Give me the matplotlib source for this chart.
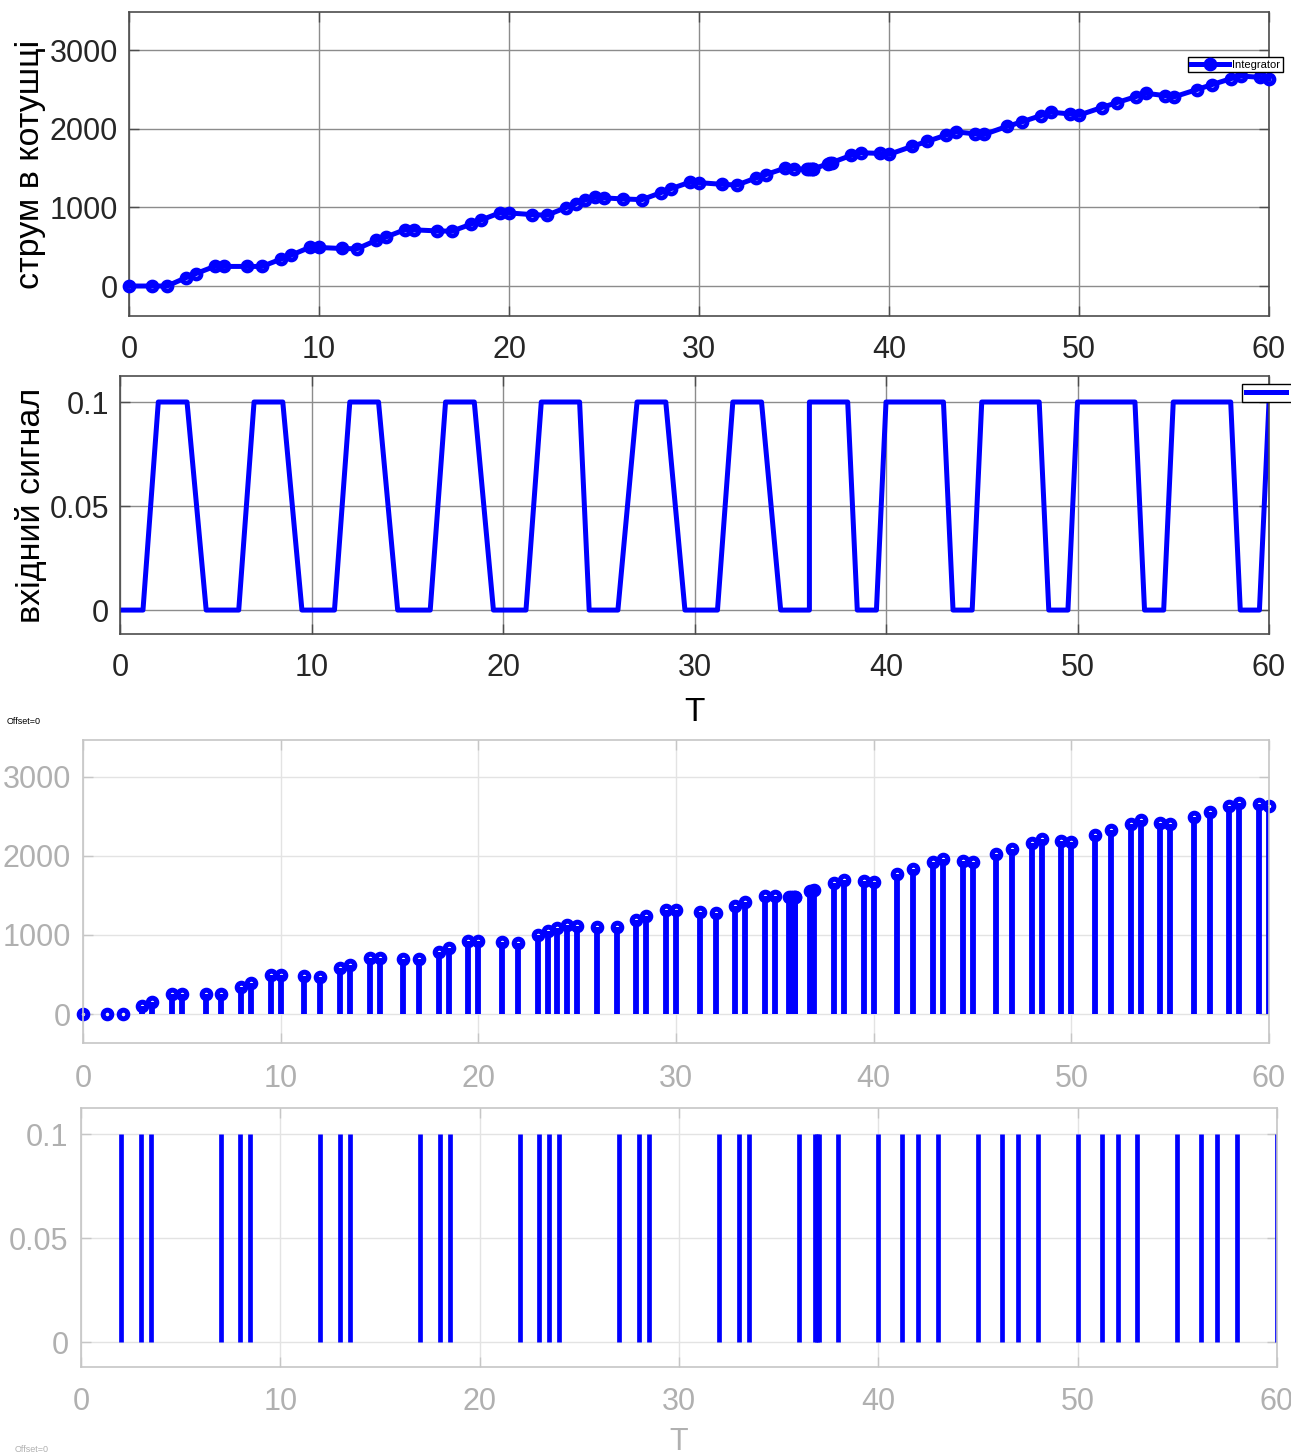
import matplotlib
matplotlib.use('Agg')
import matplotlib.pyplot as plt

plt.rcParams['font.family'] = ['Liberation Sans', 'DejaVu Sans']

# ---- data ----
t = [0, 1.2, 2, 3, 3.5, 4.5, 5, 6.2, 7, 8, 8.5, 9.5, 10, 11.2, 12, 13, 13.5,
     14.5, 15, 16.2, 17, 18, 18.5, 19.5, 20, 21.2, 22, 23, 23.5, 24, 24.5, 25,
     26, 27, 28, 28.5, 29.5, 30, 31.2, 32, 33, 33.5, 34.5, 35, 35.7, 35.8, 35.9,
     36.0, 36.0, 36.8, 36.9, 37.0, 38, 38.5, 39.5, 40, 41.2, 42, 43, 43.5, 44.5,
     45, 46.2, 47, 48, 48.5, 49.5, 50, 51.2, 52, 53, 53.5, 54.5, 55, 56.2, 57,
     58, 58.5, 59.5, 60]
signal = [0, 0, 0.1, 0.1, 0.1, 0, 0, 0, 0.1, 0.1, 0.1, 0, 0, 0, 0.1, 0.1, 0.1,
          0, 0, 0, 0.1, 0.1, 0.1, 0, 0, 0, 0.1, 0.1, 0.1, 0.1, 0, 0,
          0, 0.1, 0.1, 0.1, 0, 0, 0, 0.1, 0.1, 0.1, 0, 0, 0, 0, 0,
          0, 0.1, 0.1, 0.1, 0.1, 0.1, 0, 0, 0.1, 0.1, 0.1, 0.1, 0, 0,
          0.1, 0.1, 0.1, 0.1, 0, 0, 0.1, 0.1, 0.1, 0.1, 0, 0, 0.1, 0.1, 0.1,
          0.1, 0, 0, 0.1]
current = [0, 0, 0, 106, 156, 249, 249, 249, 249, 342, 389, 490, 490, 477, 473,
           579, 621, 714, 714, 701, 697, 786, 836, 929, 929, 908, 900, 997, 1048,
           1094, 1128, 1120, 1107, 1098, 1187, 1235, 1318, 1314, 1293, 1284, 1373,
           1415, 1496, 1491, 1484, 1485, 1486, 1487, 1487, 1555, 1563, 1570, 1660,
           1694, 1686, 1673, 1774, 1838, 1918, 1960, 1935, 1926, 2028, 2087, 2167,
           2210, 2188, 2172, 2269, 2332, 2408, 2450, 2421, 2404, 2497, 2560, 2636,
           2670, 2653, 2632]
xticks = [0, 10, 20, 30, 40, 50, 60]
yticks_i = [0, 1000, 2000, 3000]
yticks_s = [0, 0.05, 0.1]
ylabel_top = 'струм в котушці'
ylabel_sig = 'вхідний сигнал'
legend_top = 'Integrator'

W, H = 1291, 1454
fig = plt.figure(figsize=(W / 100, H / 100), dpi=100)


def px_axes(l, tp, r, b):
    return fig.add_axes([l / W, 1 - b / H, (r - l) / W, (b - tp) / H])


blue = '#0000ff'
dark_sp, dark_grid, dark_txt = '#4d4d4d', '#8c8c8c', '#262626'
lt_sp, lt_grid, lt_txt = '#c6c6c6', '#e3e3e3', '#b0b0b0'


def style(ax, sp, gr, txt, xpad, ypad):
    for s in ax.spines.values():
        s.set_color(sp)
        s.set_linewidth(1.2)
    ax.grid(True, color=gr, linewidth=1.0)
    ax.set_axisbelow(True)
    ax.tick_params(direction='in', length=7, width=1, colors=sp,
                   labelcolor=txt, labelsize=22, top=True, right=True)
    ax.tick_params(axis='x', pad=xpad)
    ax.tick_params(axis='y', pad=ypad)


# ---- panel 1 ----
ax1 = px_axes(129, 12, 1269, 316)
ax1.plot(t, current, '-o', color=blue, lw=3.6, ms=6.5, mew=3.4, mfc='none',
         label=legend_top, clip_on=False, zorder=3)
ax1.set_xlim(0, 60)
ax1.set_ylim(-381, 3483)
ax1.set_xticks(xticks)
ax1.set_yticks(yticks_i)
style(ax1, dark_sp, dark_grid, dark_txt, 14, 8)
ax1.set_ylabel(ylabel_top, fontsize=24.5, color='black', va='center')
ax1.yaxis.set_label_coords((31 - 129) / 1140, 0.5)
leg1 = ax1.legend(loc='center', bbox_to_anchor=(1235.5 / W, 1 - 64.5 / H),
                  bbox_transform=fig.transFigure, fontsize=8, frameon=True,
                  fancybox=False, edgecolor='black', framealpha=1,
                  borderpad=0.25, handlelength=3.4, handletextpad=0.3,
                  borderaxespad=0)
leg1.get_frame().set_linewidth(1.0)
leg1.set_zorder(5)

# ---- panel 2 ----
ax2 = px_axes(120, 376, 1269, 634)
ax2.plot(t, signal, color=blue, lw=3.6, label=' ')
ax2.set_xlim(0, 60)
ax2.set_ylim(-0.0115, 0.1125)
ax2.set_xticks(xticks)
ax2.set_yticks(yticks_s)
ax2.set_yticklabels(['0', '0.05', '0.1'])
style(ax2, dark_sp, dark_grid, dark_txt, 14, 8)
ax2.set_ylabel(ylabel_sig, fontsize=24.5, color='black', va='center')
ax2.yaxis.set_label_coords((31 - 120) / 1149, 0.5)
ax2.set_xlabel('T', fontsize=24, color='black', va='top')
ax2.xaxis.set_label_coords(0.5, (634 - 697) / 258)
leg2 = ax2.legend(loc='center left', bbox_to_anchor=(1242 / W, 1 - 393 / H),
                  bbox_transform=fig.transFigure, fontsize=7.5, frameon=True,
                  fancybox=False, edgecolor='black', framealpha=1,
                  borderpad=0.4, handlelength=3.8, handletextpad=0.3,
                  borderaxespad=0)
leg2.get_frame().set_linewidth(1.0)

# ---- panel 3 ----
ax3 = px_axes(83, 740, 1269, 1043)
ml, sl, bl = ax3.stem(t, current)
ml.set_color(blue)
ml.set_markerfacecolor('none')
ml.set_markeredgecolor(blue)
ml.set_markersize(6.2)
ml.set_markeredgewidth(3.6)
ml.set_clip_on(False)
sl.set_color(blue)
sl.set_linewidth(4.2)
bl.set_visible(False)
ax3.set_xlim(0, 60)
ax3.set_ylim(-367, 3468)
ax3.set_xticks(xticks)
ax3.set_yticks(yticks_i)
style(ax3, lt_sp, lt_grid, lt_txt, 15, 8.5)

# ---- panel 4 ----
ax4 = px_axes(81, 1108, 1277, 1367)
ml4, sl4, bl4 = ax4.stem(t, signal)
ml4.set_visible(False)
bl4.set_visible(False)
sl4.set_color(blue)
sl4.set_linewidth(3.4)
ax4.set_xlim(0, 60)
ax4.set_ylim(-0.012, 0.1125)
ax4.set_xticks(xticks)
ax4.set_yticks(yticks_s)
ax4.set_yticklabels(['0', '0.05', '0.1'])
style(ax4, lt_sp, lt_grid, lt_txt, 14.5, 9)
ax4.set_xlabel('T', fontsize=22, color=lt_txt, va='top')
ax4.xaxis.set_label_coords(0.5, (1367 - 1427) / 259)

fig.text(7 / W, 1 - 721 / H, 'Offset=0', fontsize=6.5, color='black',
         ha='left', va='center')
fig.text(15 / W, 1 - 1449 / H, 'Offset=0', fontsize=6.5, color=lt_txt,
         ha='left', va='center')

fig.savefig('out.png', dpi=100)
